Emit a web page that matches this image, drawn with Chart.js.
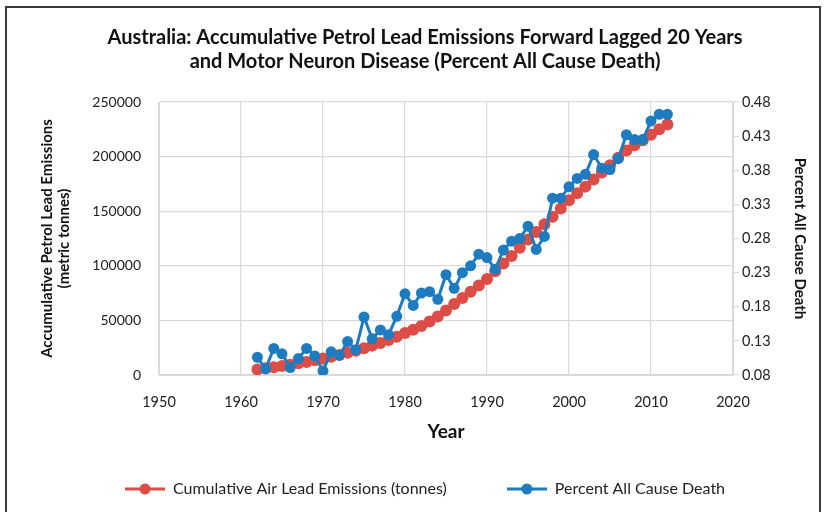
<!DOCTYPE html>
<html lang="en">
<head>
    <meta charset="UTF-8">
    <title>Australia: Accumulative Petrol Lead Emissions and MND</title>
    <script src="https://cdn.jsdelivr.net/npm/chart.js"></script>
    <style>
        body {
            margin: 0;
            background: #fff;
            font-family: 'Lato', sans-serif;
        }
        .wrap {
            position: relative;
            width: 824px;
            height: 512px;
        }
        .frame {
            position: absolute;
            left: 5px;
            top: 6px;
            width: 812px;
            height: 520px;
            border: 2px solid #3a3a3a;
            pointer-events: none;
        }
    </style>
</head>
<body>
    <div class="wrap">
        <canvas id="grafico" width="824" height="512"></canvas>
        <div class="frame"></div>
    </div>

    <script>
        // dados
        const anos = [1962, 1963, 1964, 1965, 1966, 1967, 1968, 1969, 1970, 1971,
            1972, 1973, 1974, 1975, 1976, 1977, 1978, 1979, 1980, 1981,
            1982, 1983, 1984, 1985, 1986, 1987, 1988, 1989, 1990, 1991,
            1992, 1993, 1994, 1995, 1996, 1997, 1998, 1999, 2000, 2001,
            2002, 2003, 2004, 2005, 2006, 2007, 2008, 2009, 2010, 2011, 2012];

        const chumboAcumulado = [5000, 6100, 7200, 8300, 9500, 10700, 12000, 13400, 15000, 16700,
            18400, 20300, 22300, 24500, 26900, 29400, 32100, 35100, 38400, 41500,
            44800, 48900, 53500, 59000, 65000, 70500, 76200, 82000, 88000, 95000,
            102000, 109000, 116500, 124000, 131000, 138000, 145000, 152500, 160000, 166500,
            172500, 179000, 185500, 192000, 199000, 205500, 210500, 215000, 220000, 225000, 229500];

        const percentMortes = [0.106, 0.089, 0.119, 0.111, 0.091, 0.104, 0.119, 0.108, 0.086, 0.114,
            0.109, 0.129, 0.117, 0.165, 0.133, 0.146, 0.139, 0.166, 0.199, 0.182,
            0.200, 0.202, 0.191, 0.227, 0.207, 0.230, 0.240, 0.257, 0.252, 0.235,
            0.263, 0.276, 0.280, 0.298, 0.264, 0.283, 0.339, 0.339, 0.356, 0.368,
            0.374, 0.403, 0.383, 0.381, 0.397, 0.432, 0.425, 0.425, 0.452, 0.462, 0.462];

        const titulo = ['Australia: Accumulative Petrol Lead Emissions Forward Lagged 20 Years',
            'and Motor Neuron Disease (Percent All Cause Death)'];

        const vermelho = '#DC4D47';
        const azul = '#1F7BC0';
        const grade = '#D9D9D9';
        const texto = '#222222';

        // marcador da legenda: linha com círculo (estilo Excel)
        function marcaLegenda(cor) {
            const c = document.createElement('canvas');
            c.width = 40;
            c.height = 12;
            const g = c.getContext('2d');
            g.strokeStyle = cor;
            g.lineWidth = 3;
            g.beginPath();
            g.moveTo(0, 6);
            g.lineTo(40, 6);
            g.stroke();
            g.fillStyle = cor;
            g.beginPath();
            g.arc(20, 6, 5.5, 0, Math.PI * 2);
            g.fill();
            return c;
        }

        const ctx = document.getElementById('grafico').getContext('2d');

        new Chart(ctx, {
            type: 'line',
            data: {
                datasets: [{
                    label: 'Cumulative Air Lead Emissions (tonnes)',
                    data: anos.map((a, i) => ({ x: a, y: chumboAcumulado[i] })),
                    yAxisID: 'y',
                    borderColor: vermelho,
                    backgroundColor: vermelho,
                    borderWidth: 3,
                    pointRadius: 6,
                    pointBorderWidth: 0,
                    order: 2
                }, {
                    label: 'Percent All Cause Death',
                    data: anos.map((a, i) => ({ x: a, y: percentMortes[i] })),
                    yAxisID: 'y1',
                    borderColor: azul,
                    backgroundColor: azul,
                    borderWidth: 3,
                    pointRadius: 5.5,
                    pointBorderWidth: 0,
                    order: 1
                }]
            },
            options: {
                responsive: false,
                devicePixelRatio: 1,
                animation: false,
                layout: {
                    padding: { left: 26, right: 0, top: 0, bottom: 5 }
                },
                elements: {
                    point: { pointStyle: 'circle' },
                    line: { tension: 0 }
                },
                plugins: {
                    title: {
                        display: true,
                        text: titulo,
                        color: '#111',
                        font: { family: 'Lato', size: 20, weight: 'bold', lineHeight: 1.2 },
                        padding: { top: 26, bottom: 28 }
                    },
                    legend: {
                        position: 'bottom',
                        labels: {
                            usePointStyle: true,
                            pointStyleWidth: 40,
                            padding: 36,
                            color: texto,
                            font: { family: 'Lato', size: 16 },
                            // primeiro item com folga extra, como no original
                            generateLabels: (chart) => chart.data.datasets.map((ds, i) => ({
                                text: i === 0 ? ds.label + '\u2003\u2003' : ds.label,
                                datasetIndex: i,
                                fontColor: texto,
                                pointStyle: marcaLegenda(ds.borderColor),
                                lineWidth: 0,
                                strokeStyle: ds.borderColor,
                                fillStyle: ds.borderColor
                            }))
                        }
                    },
                    tooltip: { enabled: false }
                },
                scales: {
                    x: {
                        type: 'linear',
                        min: 1950,
                        max: 2020,
                        afterFit: (s) => { s.height = 70; },
                        ticks: {
                            stepSize: 10,
                            color: texto,
                            padding: 19,
                            font: { family: 'Lato', size: 14.5 },
                            callback: (v) => String(v)
                        },
                        grid: { color: grade, lineWidth: 1.2, drawTicks: false },
                        border: { color: grade },
                        title: {
                            display: true,
                            text: 'Year',
                            color: '#111',
                            font: { family: 'Lato', size: 19, weight: 'bold' },
                            padding: { top: 2, bottom: 2 }
                        }
                    },
                    y: {
                        position: 'left',
                        min: 0,
                        max: 250000,
                        afterFit: (s) => { s.width = 133; },
                        ticks: {
                            stepSize: 50000,
                            color: texto,
                            padding: 18,
                            font: { family: 'Lato', size: 14 },
                            callback: (v) => String(v)
                        },
                        grid: { color: grade, lineWidth: 1.2, drawTicks: false },
                        border: { color: grade },
                        title: {
                            display: true,
                            text: ['Accumulative Petrol Lead Emissions', '(metric tonnes)'],
                            color: '#111',
                            font: { family: 'Lato', size: 15, weight: 'bold', lineHeight: 1.1 },
                            padding: { top: 13, bottom: 0 }
                        }
                    },
                    y1: {
                        position: 'right',
                        min: 0.08,
                        max: 0.48,
                        afterFit: (s) => { s.width = 91; },
                        ticks: {
                            stepSize: 0.05,
                            color: texto,
                            padding: 3,
                            font: { family: 'Lato', size: 14.5 },
                            callback: (v) => v.toFixed(2)
                        },
                        grid: { drawOnChartArea: false, color: grade, tickLength: 6, lineWidth: 1.2 },
                        border: { color: grade },
                        title: {
                            display: true,
                            text: 'Percent All Cause Death',
                            color: '#111',
                            font: { family: 'Lato', size: 15, weight: 'bold' },
                            padding: { top: 15, bottom: 0 }
                        }
                    }
                }
            }
        });
    </script>
</body>
</html>
